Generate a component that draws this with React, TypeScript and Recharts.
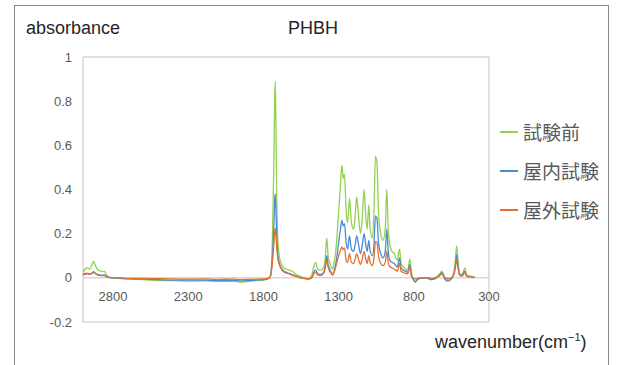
import { LineChart, Line, XAxis, YAxis, ReferenceLine, ReferenceArea, Legend } from 'recharts'

// wavenumber (cm-1), high -> low
const wavenumbers = [
  3000, 2985, 2970, 2955, 2940, 2930, 2920, 2900, 2880, 2870, 2860, 2845, 2830, 2800,
  2750, 2700, 2600, 2500, 2400, 2300, 2200, 2100, 2000, 1950, 1900, 1850, 1800, 1770,
  1755, 1745, 1738, 1730, 1725, 1722, 1718, 1712, 1705, 1695, 1685, 1670, 1650, 1630, 1610, 1590, 1570, 1550, 1520, 1500,
  1480, 1465, 1453, 1440, 1420, 1400, 1390, 1379, 1370, 1360, 1350, 1340, 1330,
  1315, 1300, 1290, 1278, 1270, 1261, 1250, 1240, 1228, 1215, 1200, 1190, 1180, 1170, 1155, 1145, 1130, 1120, 1110, 1100,
  1090, 1075, 1065, 1055, 1045, 1035, 1020, 1005, 990, 980, 970, 960, 945, 930, 920, 910, 895, 885, 870, 855, 840, 827,
  815, 800, 790, 780, 760, 740,
  720, 700, 680, 660, 640, 625, 615, 605, 590, 570, 550, 535, 525, 515, 505, 495, 480, 470, 460, 450, 440, 425, 410, 395,
]

// 試験前
const beforeTest = [
  0.025, 0.04, 0.045, 0.04, 0.06, 0.074, 0.06, 0.035, 0.03, 0.028, 0.03, 0.015, 0.005, 0.0,
  -0.003, -0.006, -0.008, -0.012, -0.013, -0.015, -0.014, -0.016, -0.015, -0.02, -0.016, -0.012, -0.01, -0.005,
  0.01, 0.08, 0.25, 0.55, 0.82, 0.89, 0.75, 0.4, 0.18, 0.1, 0.07, 0.05, 0.04, 0.035, 0.03, 0.02, 0.01, 0.005, -0.002, -0.005,
  0.01, 0.05, 0.07, 0.04, 0.035, 0.045, 0.08, 0.18, 0.1, 0.07, 0.05, 0.04, 0.07,
  0.15, 0.3, 0.4, 0.51, 0.45, 0.47, 0.3, 0.25, 0.36, 0.25, 0.22, 0.28, 0.365, 0.3, 0.2, 0.25, 0.4, 0.28, 0.22, 0.33,
  0.22, 0.18, 0.3, 0.55, 0.52, 0.3, 0.2, 0.17, 0.22, 0.4, 0.22, 0.15, 0.12, 0.11, 0.09, 0.08, 0.13, 0.07, 0.05, 0.04, 0.035, 0.085,
  0.02, -0.01, -0.02, -0.01, 0.0, 0.0,
  0.0, -0.003, -0.005, 0.0, 0.01, 0.02, 0.03, 0.02, -0.005, -0.01, 0.0, 0.02, 0.07, 0.145, 0.07, 0.02, 0.015, 0.03, 0.045, 0.015, 0.01, 0.008, 0.005, 0.003,
]

// 屋内試験
const indoorTest = [
  0.015, 0.02, 0.02, 0.018, 0.022, 0.028, 0.022, 0.014, 0.012, 0.012, 0.013, 0.006, 0.002, 0.0,
  -0.002, -0.004, -0.006, -0.008, -0.01, -0.01, -0.01, -0.012, -0.012, -0.014, -0.012, -0.01, -0.008, -0.004,
  0.005, 0.05, 0.12, 0.25, 0.35, 0.38, 0.33, 0.2, 0.11, 0.07, 0.05, 0.035, 0.025, 0.02, 0.015, 0.01, 0.005, 0.0, -0.004, -0.006,
  0.0, 0.025, 0.035, 0.02, 0.015, 0.025, 0.05, 0.1, 0.06, 0.04, 0.025, 0.015, 0.03,
  0.08, 0.16, 0.21, 0.26, 0.235, 0.245, 0.16, 0.13, 0.19, 0.13, 0.12, 0.15, 0.19, 0.16, 0.11, 0.14, 0.2, 0.15, 0.12, 0.17,
  0.12, 0.1, 0.15, 0.28, 0.27, 0.16, 0.11, 0.09, 0.12, 0.22, 0.12, 0.08, 0.07, 0.065, 0.055, 0.05, 0.09, 0.045, 0.035, 0.03, 0.025, 0.06,
  0.01, -0.01, -0.018, -0.01, -0.002, 0.0,
  0.0, -0.005, -0.008, -0.005, 0.005, 0.015, 0.025, 0.015, -0.01, -0.015, -0.005, 0.015, 0.05, 0.105, 0.05, 0.015, 0.01, 0.02, 0.03, 0.01, 0.006, 0.005, 0.003, 0.002,
]

// 屋外試験
const outdoorTest = [
  0.012, 0.016, 0.018, 0.016, 0.02, 0.024, 0.02, 0.012, 0.01, 0.01, 0.011, 0.005, 0.002, 0.0,
  0.0, -0.002, -0.003, -0.004, -0.005, -0.006, -0.005, -0.007, -0.006, -0.008, -0.007, -0.006, -0.005, -0.002,
  0.004, 0.04, 0.09, 0.16, 0.21, 0.225, 0.2, 0.14, 0.09, 0.06, 0.045, 0.03, 0.022, 0.018, 0.012, 0.008, 0.004, 0.0, -0.003, -0.004,
  0.0, 0.018, 0.025, 0.014, 0.01, 0.02, 0.04, 0.08, 0.05, 0.03, 0.02, 0.012, 0.025,
  0.06, 0.1, 0.12, 0.14, 0.128, 0.135, 0.08, 0.07, 0.11, 0.07, 0.065, 0.085, 0.11, 0.09, 0.06, 0.08, 0.12, 0.085, 0.065, 0.1,
  0.07, 0.055, 0.09, 0.165, 0.16, 0.1, 0.065, 0.055, 0.07, 0.12, 0.07, 0.05, 0.045, 0.04, 0.035, 0.03, 0.065, 0.03, 0.025, 0.02, 0.018, 0.05,
  0.005, -0.003, -0.005, -0.003, 0.0, 0.0,
  0.0, 0.0, -0.002, 0.0, 0.005, 0.012, 0.018, 0.01, 0.0, -0.004, 0.0, 0.012, 0.04, 0.08, 0.04, 0.012, 0.008, 0.015, 0.025, 0.01, 0.006, 0.005, 0.003, 0.002,
]

const seriesNames = ['試験前', '屋内試験', '屋外試験']
const seriesKeys = ['before', 'indoor', 'outdoor']
const seriesColors = ['#92d050', '#4a8bd6', '#e3712d']
const xTicks = [2800, 2300, 1800, 1300, 800, 300]
const yTicks = [-0.2, 0, 0.2, 0.4, 0.6, 0.8, 1]

const data = wavenumbers.map((wn, i) => ({
  wn,
  before: beforeTest[i],
  indoor: indoorTest[i],
  outdoor: outdoorTest[i],
}))

const W = 619
const H = 365
const PLOT_TOP = 57
const PLOT_BOTTOM = 322
// x labels sit just under the zero line, not under the plot box
const ZERO_Y = PLOT_BOTTOM - ((PLOT_BOTTOM - PLOT_TOP) * 0.2) / 1.2
const XLABEL_Y = ZERO_Y + 19

const XTick = ({ x, payload }: any) => (
  <text x={x} y={XLABEL_Y} dy="0.35em" textAnchor="middle" fill="#595959" fontSize={13}>
    {payload.value}
  </text>
)

const renderLegend = () => (
  <div style={{ fontFamily: '"Noto Sans CJK JP", sans-serif', fontSize: 19, color: '#595959' }}>
    {seriesNames.map((name, i) => (
      <div key={name} style={{ display: 'flex', alignItems: 'center', height: 39, whiteSpace: 'nowrap' }}>
        <span
          style={{ display: 'inline-block', width: 18, height: 2, background: seriesColors[i], marginRight: 5 }}
        />
        {name}
      </div>
    ))}
  </div>
)

export default function App() {
  return (
    <div
      style={{
        position: 'absolute',
        left: 0,
        top: 0,
        width: W,
        height: H,
        background: '#fff',
        fontFamily: '"Liberation Sans", Arial, sans-serif',
      }}
    >
      <div
        style={{
          position: 'absolute',
          left: 14,
          top: 5,
          width: 595,
          height: 380,
          border: '1px solid #8a8a8a',
          boxSizing: 'border-box',
        }}
      />
      <div style={{ position: 'absolute', left: 26, top: 18, fontSize: 18, color: '#262626', lineHeight: '20px' }}>
        absorbance
      </div>
      <div
        style={{
          position: 'absolute',
          left: 263,
          width: 100,
          textAlign: 'center',
          top: 18,
          fontSize: 18,
          color: '#262626',
          lineHeight: '20px',
        }}
      >
        PHBH
      </div>
      <div style={{ position: 'absolute', left: 435, top: 332, fontSize: 18, color: '#262626', lineHeight: '20px' }}>
        wavenumber(cm<sup style={{ fontSize: 11, lineHeight: 0 }}>−1</sup>)
      </div>
      <LineChart width={W} height={H} data={data} margin={{ top: PLOT_TOP, right: 130, bottom: 23, left: 33 }}>
        <ReferenceArea x1={300} x2={3000} y1={-0.2} y2={1} fill="none" fillOpacity={0} stroke="#c4c4c4" />
        <ReferenceLine y={0} stroke="#c4c4c4" />
        <XAxis
          type="number"
          dataKey="wn"
          domain={[300, 3000]}
          reversed
          ticks={xTicks}
          height={20}
          axisLine={false}
          tickLine={false}
          tick={<XTick />}
          interval={0}
        />
        <YAxis
          type="number"
          domain={[-0.2, 1]}
          ticks={yTicks}
          width={50}
          axisLine={false}
          tickLine={false}
          tickMargin={5}
          tick={{ fill: '#595959', fontSize: 13 }}
          tickFormatter={(v: number) => String(Math.round(v * 10) / 10)}
          interval={0}
        />
        {seriesKeys.map((key, i) => (
          <Line
            key={key}
            type="monotone"
            dataKey={key}
            name={seriesNames[i]}
            stroke={seriesColors[i]}
            strokeWidth={1.3}
            dot={false}
            isAnimationActive={false}
          />
        ))}
        <Legend
          layout="vertical"
          align="center"
          verticalAlign="middle"
          content={renderLegend}
          wrapperStyle={{ left: 500, top: 112, width: 115 }}
        />
      </LineChart>
    </div>
  )
}
